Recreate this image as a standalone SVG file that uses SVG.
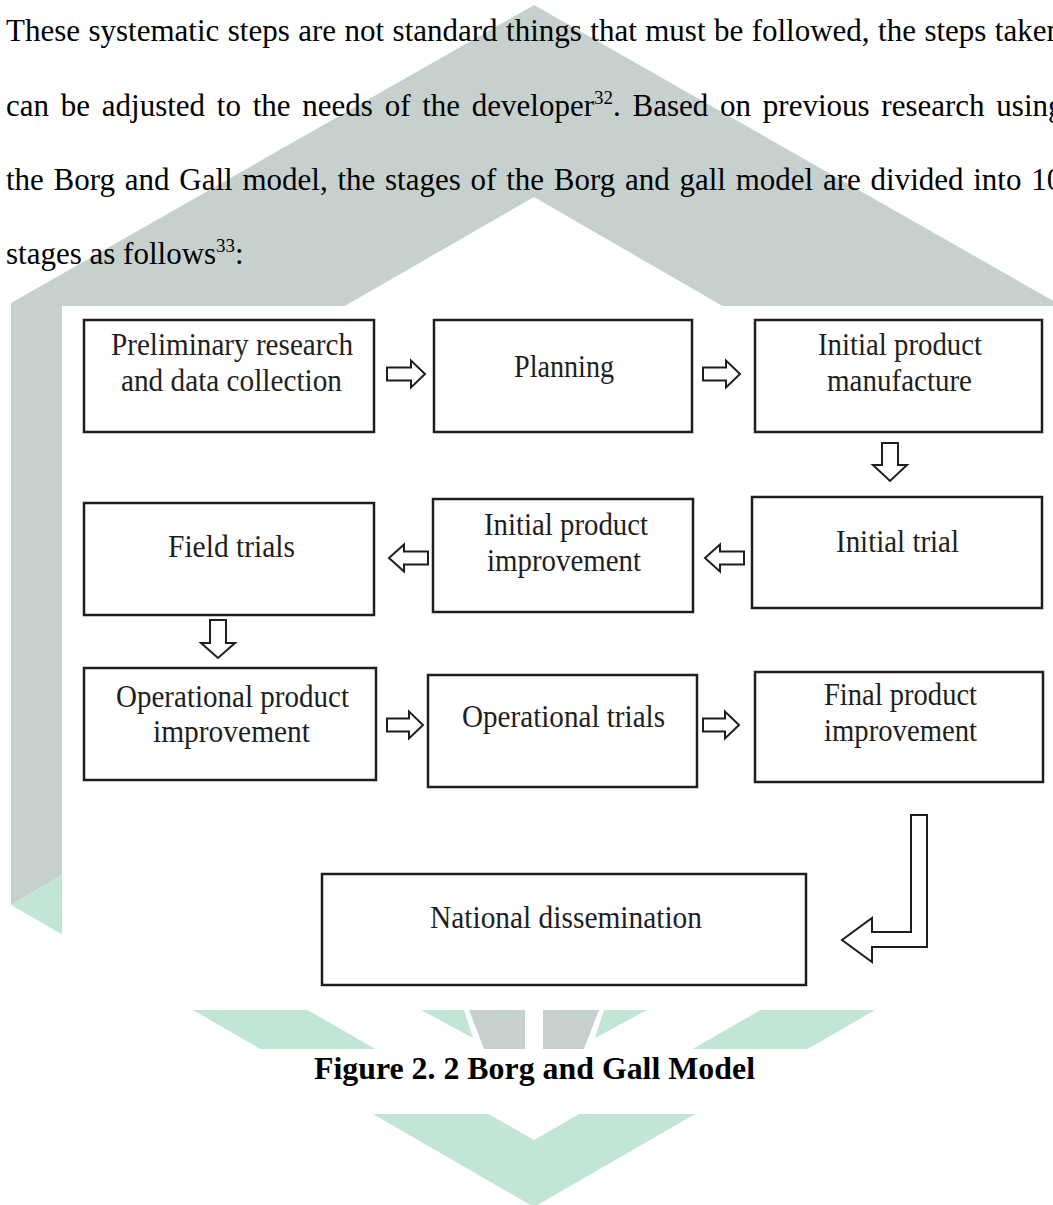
<svg xmlns="http://www.w3.org/2000/svg" width="1053" height="1205" viewBox="0 0 1053 1205">
<style>
.body{font-family:"Liberation Serif","Times New Roman",serif;font-size:31px;fill:#000}
.cap{font-family:"Liberation Serif","Times New Roman",serif;font-size:31px;font-weight:bold;fill:#000}
.lbl{font-family:"Liberation Serif","Times New Roman",serif;font-size:32px;fill:#1e1e1e}
.box{fill:#fff;stroke:#1e1e1e;stroke-width:2.5}
.arr{fill:#fff;stroke:#1e1e1e;stroke-width:2;stroke-linejoin:miter}
.grey{fill:#c6d1cd}
.green{fill:#c1e6d4}
</style>
<rect width="1053" height="1205" fill="#fff"/>
<g id="watermark">
<polygon class="grey" points="534,5 1057,303 1057,330 764,330 534,197 100,447 100,852.6 11,905 11,303"/>
<polygon class="green" points="11,905 534,1207 1057,905 1001,872 534,1140 67,872"/>
<polygon class="green" points="421,1010 464,1010 473,1038"/>
<polygon class="green" points="604,1010 647,1010 595,1038"/>
<polygon class="grey" points="469,1010 525,1010 525,1049 484,1049"/>
<polygon class="grey" points="543,1010 599,1010 584,1049 543,1049"/>
<rect x="62" y="306" width="991" height="704" fill="#fff"/>
<rect x="0" y="1049" width="1053" height="65" fill="#fff"/>
</g>
<g id="paragraph">
<text class="body" x="6" y="41" word-spacing="0.7">These systematic steps are not standard things that must be followed, the steps taken</text>
<text class="body" x="6" y="116" word-spacing="4">can be adjusted to the needs of the developer<tspan font-size="19" dy="-12">32</tspan><tspan dy="12">. Based on previous research using</tspan></text>
<text class="body" x="6" y="190" word-spacing="2">the Borg and Gall model, the stages of the Borg and gall model are divided into 10</text>
<text class="body" x="6" y="264">stages as follows<tspan font-size="19" dy="-12">33</tspan><tspan dy="12">:</tspan></text>
</g>
<g id="connectors">
<path class="arr" d="M387,367.5 H411 V360.5 L425,374 L411,387.5 V380.5 H387 Z"/>
<path class="arr" d="M703,367.5 H726 V360.5 L740,374 L726,387.5 V380.5 H703 Z"/>
<path class="arr" d="M882,443 H898 V465 H907 L890,481 L873,465 H882 Z"/>
<path class="arr" d="M744,551.5 H720 V544.5 L705,558 L720,571.5 V564.5 H744 Z"/>
<path class="arr" d="M428,551.5 H404 V544.5 L389,558 L404,571.5 V564.5 H428 Z"/>
<path class="arr" d="M210,620 H226 V643 H235 L218,658 L201,643 H210 Z"/>
<path class="arr" d="M387,718.5 H409 V711.5 L423,725 L409,738.5 V731.5 H387 Z"/>
<path class="arr" d="M703,718.5 H725 V711.5 L739,725 L725,738.5 V731.5 H703 Z"/>
<path class="arr" d="M911,815 H927 V947 H872 V962 L842,940 L872,918 V932 H911 Z"/>
</g>
<g id="node-preliminary">
<rect class="box" x="84" y="320" width="290" height="112"/>
<text class="lbl" x="111" y="355" textLength="242" lengthAdjust="spacingAndGlyphs">Preliminary research</text>
<text class="lbl" x="121" y="391" textLength="221" lengthAdjust="spacingAndGlyphs">and data collection</text>
</g>
<g id="node-planning">
<rect class="box" x="434" y="320" width="258" height="112"/>
<text class="lbl" x="514" y="377" textLength="100" lengthAdjust="spacingAndGlyphs">Planning</text>
</g>
<g id="node-initial-manufacture">
<rect class="box" x="755" y="320" width="287" height="112"/>
<text class="lbl" x="818" y="355" textLength="164" lengthAdjust="spacingAndGlyphs">Initial product</text>
<text class="lbl" x="827" y="391" textLength="145" lengthAdjust="spacingAndGlyphs">manufacture</text>
</g>
<g id="node-initial-trial">
<rect class="box" x="752" y="497" width="290" height="111"/>
<text class="lbl" x="836" y="552" textLength="123" lengthAdjust="spacingAndGlyphs">Initial trial</text>
</g>
<g id="node-initial-improvement">
<rect class="box" x="433" y="499" width="260" height="113"/>
<text class="lbl" x="484" y="535" textLength="164" lengthAdjust="spacingAndGlyphs">Initial product</text>
<text class="lbl" x="487" y="571" textLength="154" lengthAdjust="spacingAndGlyphs">improvement</text>
</g>
<g id="node-field-trials">
<rect class="box" x="84" y="503" width="290" height="112"/>
<text class="lbl" x="168" y="557" textLength="127" lengthAdjust="spacingAndGlyphs">Field trials</text>
</g>
<g id="node-operational-improvement">
<rect class="box" x="84" y="668" width="292" height="112"/>
<text class="lbl" x="116" y="707" textLength="233" lengthAdjust="spacingAndGlyphs">Operational product</text>
<text class="lbl" x="153" y="742" textLength="157" lengthAdjust="spacingAndGlyphs">improvement</text>
</g>
<g id="node-operational-trials">
<rect class="box" x="428" y="675" width="269" height="112"/>
<text class="lbl" x="462" y="727" textLength="203" lengthAdjust="spacingAndGlyphs">Operational trials</text>
</g>
<g id="node-final-improvement">
<rect class="box" x="755" y="672" width="288" height="110"/>
<text class="lbl" x="824" y="705" textLength="153" lengthAdjust="spacingAndGlyphs">Final product</text>
<text class="lbl" x="824" y="741" textLength="153" lengthAdjust="spacingAndGlyphs">improvement</text>
</g>
<g id="node-national-dissemination">
<rect class="box" x="322" y="874" width="484" height="111"/>
<text class="lbl" x="430" y="928" textLength="272" lengthAdjust="spacingAndGlyphs">National dissemination</text>
</g>
<g id="caption">
<text class="cap" x="314" y="1079" textLength="441" lengthAdjust="spacingAndGlyphs">Figure 2. 2 Borg and Gall Model</text>
</g>
</svg>
